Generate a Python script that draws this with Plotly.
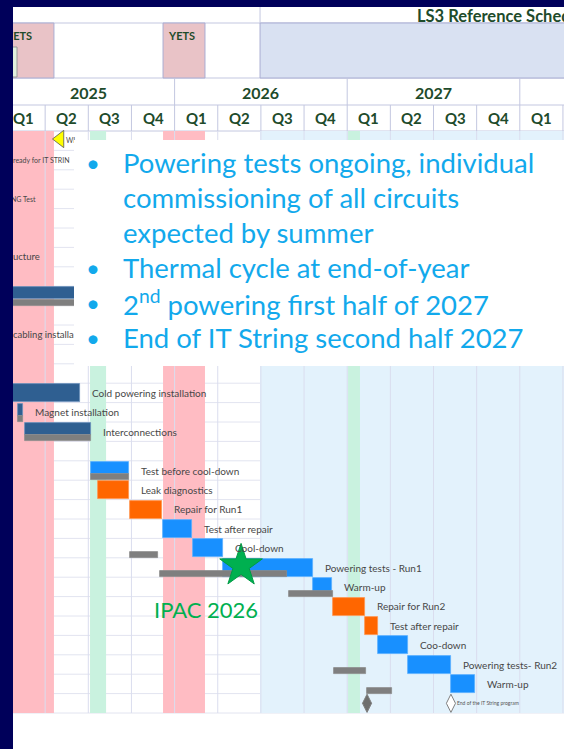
import plotly.graph_objects as go

# ------------------------------------------------------------------ data
YEARS = [2025, 2026, 2027, 2028]
QUARTERS = ["Q1", "Q2", "Q3", "Q4"]
YETS_PERIODS = [(2024.90, 2025.301), (2025.933, 2026.176)]
GREEN_PERIODS = [(2025.510, 2025.603), (2027.005, 2027.074)]
LS3_START = 2026.495
TITLE = "LS3 Reference Schedule"

task_rows = [13, 14, 15, 17, 18, 19, 20, 21, 22, 23, 24, 25, 26, 27, 28]
task_names = ["Cold powering installation", "Magnet installation", "Interconnections",
              "Test before cool-down", "Leak diagnostics", "Repair for Run1",
              "Test after repair", "Cool-down", "Powering tests - Run1", "Warm-up",
              "Repair for Run2", "Test after repair", "Coo-down",
              "Powering tests- Run2", "Warm-up"]
task_start = [2024.90, 2025.093, 2025.133, 2025.516, 2025.556, 2025.742, 2025.933,
              2026.107, 2026.280, 2026.802, 2026.918, 2027.103, 2027.178, 2027.352, 2027.601]
task_end = [2025.452, 2025.122, 2025.516, 2025.736, 2025.736, 2025.927, 2026.101,
            2026.280, 2026.802, 2026.912, 2027.103, 2027.178, 2027.352, 2027.601, 2027.740]
task_kind = ["summary", "summary", "summary", "test", "repair", "repair", "test", "test",
             "test", "test", "repair", "repair", "test", "test", "test"]

baseline_rows = [8, 14, 15, 17, 21, 22, 23, 27, 28]
baseline_start = [2024.90, 2025.093, 2025.133, 2025.516, 2025.742, 2025.915, 2026.663, 2026.924, 2027.115]
baseline_end = [2025.60, 2025.122, 2025.516, 2025.736, 2025.904, 2026.651, 2026.918, 2027.109, 2027.260]

upper_bar_rows = [8]
upper_bar_start = [2024.90]
upper_bar_end = [2025.60]

upper_labels = ["WI", "ready for IT STRIN", "NG Test", "ucture", "cabling installa"]
upper_label_rows = [0, 1, 3, 6, 10]

milestone_rows = [29, 29]
milestone_x = [2027.115, 2027.601]
milestone_text = ["", "End of the IT String program"]

flag_x = 2025.336
star_x = 2026.385
star_label = "IPAC 2026"

bullets = ["Powering tests ongoing, individual",
           "commissioning of all circuits",
           "expected by summer",
           "Thermal cycle at end-of-year",
           "2<sup>nd</sup> powering first half of 2027",
           "End of IT String second half 2027"]
bullet_marks = [True, False, False, True, True, True]

# ------------------------------------------------------------------ geometry / style
W, H = 564, 749
PX0, PX_PER_YEAR = 2.0, 172.6
X_RANGE = [2025 - PX0 / PX_PER_YEAR, 2025 + (W - PX0) / PX_PER_YEAR]
GANTT_TOP, ROW_H, N_ROWS = 131.0, 19.4, 30
GANTT_BOTTOM = GANTT_TOP + ROW_H * N_ROWS
R1, R2, R3, R4 = 7, 23, 78, 105
NAVY = "#00005A"
HDR_GREEN = "#1E4B2B"
GRID = "#E2E4F0"
HDR_LINE = "#C3C7E0"
BULLET_BLUE = "#12A9EC"
FONT = "Lato"
COLORS = {"summary": "#2F5F91", "test": "#1890FF", "repair": "#FF6600"}
EDGE = {"summary": "#6A8FBA", "test": "#5AB0FF", "repair": "#FF9550"}
COMPACT = {8, 14, 15, 17}
FULL_H, COMPACT_H, BASE_H = 18.0, 12.0, 6.0
upper_label_style = [(66, 7), (13, 7), (11, 7), (13, 9.5), (13, 9.5)]


def row_top(r):
    return GANTT_TOP + ROW_H * r


def xp(px):
    return px / W


fig = go.Figure()
shapes = []
ann = []

# ---- header backgrounds
shapes.append(dict(type="rect", xref="paper", yref="y", x0=0, x1=1, y0=R1, y1=GANTT_TOP,
                   fillcolor="white", line_width=0, layer="below"))
for s, e in YETS_PERIODS:
    shapes.append(dict(type="rect", xref="x", yref="y", x0=s, x1=e, y0=R2, y1=R3,
                       fillcolor="#E9C3C7", line=dict(color="#A9ADD3", width=1), layer="below"))
shapes.append(dict(type="rect", xref="x", yref="y", x0=LS3_START, x1=X_RANGE[1] + 1, y0=R2, y1=R3,
                   fillcolor="#D9E1F2", line=dict(color="#A9ADD3", width=1), layer="below"))
shapes.append(dict(type="rect", xref="x", yref="y", x0=2024.95, x1=2025.087, y0=R2 + 24, y1=R3 - 1,
                   fillcolor="#E3F1DD", line=dict(color="#9A9A9A", width=1), layer="below"))
shapes.append(dict(type="line", xref="x", yref="y", x0=LS3_START, x1=LS3_START, y0=R1, y1=R2,
                   line=dict(color=HDR_LINE, width=1), layer="below"))
for yy in (R2, R3, R4, GANTT_TOP):
    shapes.append(dict(type="line", xref="paper", yref="y", x0=0, x1=1, y0=yy, y1=yy,
                       line=dict(color=HDR_LINE, width=1), layer="below"))

# ---- gantt background bands
for s, e in YETS_PERIODS:
    shapes.append(dict(type="rect", xref="x", yref="y", x0=s, x1=e, y0=GANTT_TOP, y1=GANTT_BOTTOM,
                       fillcolor="#FFBCC3", line_width=0, layer="below"))
shapes.append(dict(type="rect", xref="x", yref="y", x0=LS3_START, x1=X_RANGE[1] + 1, y0=GANTT_TOP,
                   y1=GANTT_BOTTOM, fillcolor="#E3F2FC", line_width=0, layer="below"))
for s, e in GREEN_PERIODS:
    shapes.append(dict(type="rect", xref="x", yref="y", x0=s, x1=e, y0=GANTT_TOP, y1=GANTT_BOTTOM,
                       fillcolor="#C9F2DF", line_width=0, layer="below"))

# ---- grid
for r in range(N_ROWS + 1):
    yy = row_top(r)
    shapes.append(dict(type="line", xref="paper", yref="y", x0=0, x1=1, y0=yy, y1=yy,
                       line=dict(color=GRID, width=1), layer="below"))
for y in YEARS:
    for qi, q in enumerate(QUARTERS):
        xq = y + qi / 4
        top = R3 if qi == 0 else R4
        shapes.append(dict(type="line", xref="x", yref="y", x0=xq, x1=xq, y0=top, y1=GANTT_TOP,
                           line=dict(color=HDR_LINE, width=1), layer="below"))
        shapes.append(dict(type="line", xref="x", yref="y", x0=xq, x1=xq, y0=GANTT_TOP, y1=GANTT_BOTTOM,
                           line=dict(color="#DADDEE", width=1), layer="below"))
        if y < 2028 or qi == 0:
            ann.append(dict(x=y + (qi + 0.5) / 4, y=(R4 + GANTT_TOP) / 2, xref="x", yref="y", text=q,
                            showarrow=False, font=dict(family=FONT, size=15, color=HDR_GREEN, weight="bold")))
    if y < 2028:
        ann.append(dict(x=y + 0.5, y=(R3 + R4) / 2 + 1, xref="x", yref="y", text=str(y), showarrow=False,
                        font=dict(family=FONT, size=16, color=HDR_GREEN, weight="bold")))

# YETS labels (scatter text so they are clipped by the border)
fig.add_trace(go.Scatter(x=[2025 + (6 - PX0) / PX_PER_YEAR, YETS_PERIODS[1][0] + 6 / PX_PER_YEAR],
                         y=[R2 + 14] * 2, mode="text",
                         text=["YETS", "YETS"], textposition="middle right",
                         textfont=dict(family=FONT, size=11, color=HDR_GREEN, weight="bold"),
                         hoverinfo="skip", showlegend=False))
ann.append(dict(x=xp(415), y=(R1 + R2) / 2 + 1, xref="paper", yref="y", text=TITLE, showarrow=False,
                xanchor="left", font=dict(family=FONT, size=16.5, color=HDR_GREEN, weight="bold")))


# ---- bars
def add_bars(starts, ends, ys, widths, color, edge):
    fig.add_trace(go.Bar(orientation="h", base=starts, x=[e - s for s, e in zip(starts, ends)],
                         y=ys, width=widths, marker=dict(color=color, line=dict(color=edge, width=0.8)),
                         hoverinfo="skip", showlegend=False))


def main_geom(r):
    h = COMPACT_H if r in COMPACT else FULL_H
    return row_top(r) + 1 + h / 2, h


ys, ws = zip(*[main_geom(r) for r in upper_bar_rows])
add_bars(upper_bar_start, upper_bar_end, list(ys), list(ws), COLORS["summary"], EDGE["summary"])

for kind in ("summary", "test", "repair"):
    idx = [i for i, k in enumerate(task_kind) if k == kind]
    g = [main_geom(task_rows[i]) for i in idx]
    add_bars([task_start[i] for i in idx], [task_end[i] for i in idx],
             [a for a, b in g], [b for a, b in g], COLORS[kind], EDGE[kind])

add_bars(baseline_start, baseline_end, [row_top(r + 1) - BASE_H / 2 for r in baseline_rows],
         [BASE_H] * len(baseline_rows), "#7F7F7F", "#8C8C8C")

# task labels
for r, name, e in zip(task_rows, task_names, task_end):
    ann.append(dict(x=e, y=row_top(r) + ROW_H / 2, xref="x", yref="y", text=name, showarrow=False,
                    xanchor="left", xshift=10, font=dict(family=FONT, size=10, color="#474747")))

# upper labels (partially hidden by the text box)
for (pxx, fs), r, t in zip(upper_label_style, upper_label_rows, upper_labels):
    fig.add_trace(go.Scatter(x=[2025 + (pxx - PX0) / PX_PER_YEAR], y=[row_top(r) + ROW_H / 2 + 1],
                             mode="text", text=[t], textposition="middle right",
                             textfont=dict(family=FONT, size=fs, color="#474747"),
                             hoverinfo="skip", showlegend=False, cliponaxis=False))

# flag milestone
fig.add_trace(go.Scatter(x=[flag_x], y=[row_top(0) + 8], mode="markers",
                         marker=dict(symbol="triangle-left", size=15, color="#FFFF00",
                                     line=dict(color="#555555", width=0.8)),
                         hoverinfo="skip", showlegend=False))

# milestones
fig.add_trace(go.Scatter(x=milestone_x, y=[row_top(r) + ROW_H / 2 for r in milestone_rows],
                         mode="markers",
                         marker=dict(symbol="diamond-tall", size=13, color=["#6E6E6E", "white"],
                                     line=dict(color="#808080", width=1)),
                         hoverinfo="skip", showlegend=False))
for x, r, t in zip(milestone_x, milestone_rows, milestone_text):
    if t:
        ann.append(dict(x=x, y=row_top(r) + ROW_H / 2, xref="x", yref="y", text=t, showarrow=False,
                        xanchor="left", xshift=4, font=dict(family=FONT, size=5, color="#555555")))

# star
STAR_Y = row_top(22) + 8
fig.add_trace(go.Scatter(x=[star_x], y=[STAR_Y], mode="markers",
                         marker=dict(symbol="star", size=32, color="#00B050",
                                     line=dict(color="#009A44", width=1)),
                         hoverinfo="skip", showlegend=False))
ann.append(dict(x=star_x, y=STAR_Y + 44, xref="x", yref="y", text=star_label, showarrow=False,
                xshift=-35, font=dict(family=FONT, size=22, color="#00B050")))

# ---- overlay text box and slide border (above traces)
shapes.append(dict(type="rect", xref="paper", yref="y", x0=xp(74), x1=1.01, y0=140, y1=366,
                   fillcolor="white", line_width=0, layer="above"))
shapes.append(dict(type="rect", xref="paper", yref="y", x0=-0.01, x1=xp(13), y0=-5, y1=H + 5,
                   fillcolor=NAVY, line_width=0, layer="above"))
shapes.append(dict(type="rect", xref="paper", yref="y", x0=-0.01, x1=1.01, y0=-5, y1=R1,
                   fillcolor=NAVY, line_width=0, layer="above"))

BULLET_Y = [162, 197, 232, 267, 302, 337]
for t, b, yy in zip(bullets, bullet_marks, BULLET_Y):
    ann.append(dict(x=xp(121), y=yy, xref="paper", yref="y", text=t, showarrow=False, xanchor="left",
                    yanchor="middle", font=dict(family=FONT, size=27.5, color=BULLET_BLUE)))
    if b:
        ann.append(dict(x=xp(84), y=yy, xref="paper", yref="y", text="\u2022", showarrow=False,
                        font=dict(family=FONT, size=24, color=BULLET_BLUE)))

fig.update_layout(
    width=W, height=H, autosize=False,
    margin=dict(l=0, r=0, t=0, b=0),
    paper_bgcolor="white", plot_bgcolor="white",
    barmode="overlay", bargap=0,
    xaxis=dict(range=X_RANGE, visible=False, fixedrange=True),
    yaxis=dict(range=[H, 0], visible=False, fixedrange=True),
    shapes=shapes, annotations=ann, showlegend=False,
)

fig.write_html("out.html", config={"displayModeBar": False},
               post_script="document.body.style.margin='0';document.body.style.overflow='hidden';")
